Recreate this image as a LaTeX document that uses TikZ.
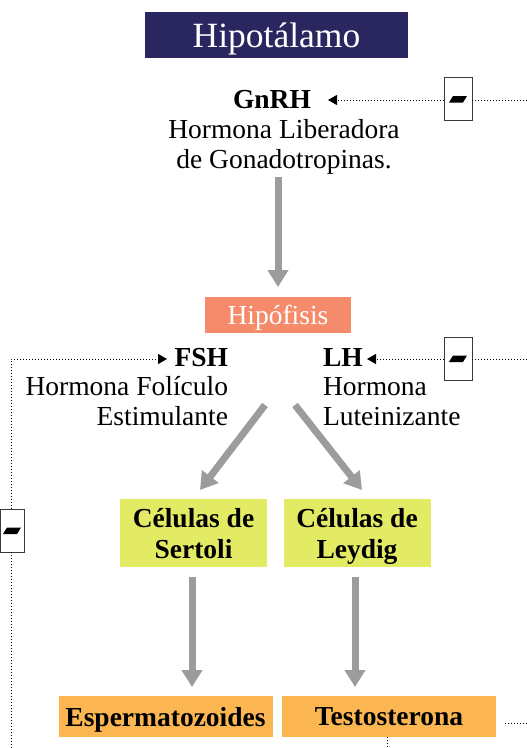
\documentclass[tikz,border=0pt]{standalone}
\usepackage{fontspec}
\setmainfont{Liberation Serif}
\usetikzlibrary{arrows.meta}
\definecolor{navy}{HTML}{2A2660}
\definecolor{salmon}{HTML}{F58B6A}
\definecolor{yelbox}{HTML}{E3EA64}
\definecolor{orabox}{HTML}{FBB652}
\definecolor{arrgray}{HTML}{9C9C9C}
\definecolor{boxline}{HTML}{3A3A3A}
\newcommand\txtsize{\fontsize{27.5}{30}\selectfont}
\newcommand\bigsize{\fontsize{35.5}{38}\selectfont}
\begin{document}
\begin{tikzpicture}[x=1pt,y=-1pt,
  every node/.style={inner sep=0pt, outer sep=0pt, font=\txtsize},
  txt/.style={anchor=base},
  hbold/.style={anchor=base, font=\txtsize\bfseries},
  headbox/.style={fill=#1, text=white, text depth=0pt},
  cellbox/.style={fill=yelbox, minimum width=147pt, minimum height=68pt, align=center, font=\txtsize\bfseries, text depth=0pt},
  prodbox/.style={fill=orabox, minimum width=214pt, minimum height=41pt, font=\txtsize\bfseries, text depth=0pt},
  minusbox/.style={draw=boxline, line width=1pt, fill=white, minimum width=28pt, minimum height=43pt},
  grayarrow/.style={draw=arrgray, line width=7pt, -{Triangle[length=17pt,width=20pt]}},
  dotline/.style={line width=1pt, dash pattern=on 1pt off 2pt},
  dotarrow/.style={dotline, -{Triangle[length=9pt,width=10pt]}}
]
\useasboundingbox (0,0) rectangle (527,748);

% boxes
\node[headbox=navy, minimum width=263pt, minimum height=46pt, font=\bigsize] (hipot) at (276.5,35) {Hipotálamo};
\node[headbox=salmon, minimum width=146pt, minimum height=36pt] (hipof) at (278,315) {Hipófisis};

% GnRH
\node[hbold] (gnrh) at (272,108) {GnRH};
\node[txt] (gnrhA) at (284,138) {Hormona Liberadora};
\node[txt] (gnrhB) at (284,168) {de Gonadotropinas.};

% FSH
\node[hbold, anchor=base east] (fsh) at (228,366) {FSH};
\node[txt, anchor=base east] (fshA) at (228,395) {Hormona Folículo};
\node[txt, anchor=base east] (fshB) at (228,425) {Estimulante};

% LH
\node[hbold, anchor=base west] (lh) at (323,366) {LH};
\node[txt, anchor=base west] (lhA) at (323,395) {Hormona};
\node[txt, anchor=base west] (lhB) at (323,425) {Luteinizante};

% cells
\node[cellbox] (sertoli) at (193.5,533) {Células de\\[1pt]Sertoli};
\node[cellbox] (leydig) at (357,533) {Células de\\[1pt]Leydig};
\node[prodbox] (esperm) at (165.5,716.5) {Espermatozoides};
\node[prodbox] (testo) at (389,716.5) {Testosterona};

% minus boxes
\node[minusbox] (m1) at (458,99) {};
\node[minusbox] (m2) at (458,358.5) {};
\node[minusbox, minimum width=24pt] (m3) at (12,530.5) {};
\foreach \m in {m1,m2,m3}{
  \fill[shift={(\m.center)}] (-9,3.5) -- (-5,-3) -- (9,-3) -- (5,3.5) -- cycle;
}

% gray arrows
\coordinate (a1s) at (278,177);
\coordinate (a1e) at (278,287);
\draw[grayarrow] (a1s) -- (a1e);
\coordinate (a2s) at (265,405);
\coordinate (a2e) at (200,490);
\draw[grayarrow] (a2s) -- (a2e);
\coordinate (a3s) at (295,405);
\coordinate (a3e) at (362,490);
\draw[grayarrow] (a3s) -- (a3e);
\coordinate (a4s) at (192,577);
\coordinate (a4e) at (192,687);
\draw[grayarrow] (a4s) -- (a4e);
\coordinate (a5s) at (355,577);
\coordinate (a5e) at (355,687);
\draw[grayarrow] (a5s) -- (a5e);

% dotted feedback lines
\coordinate (r1) at (527,100);
\coordinate (t1) at (328,100);
\draw[dotline] (r1) -- (m1.east |- r1);
\draw[dotarrow] (m1.west |- r1) -- (t1);
\coordinate (r2) at (527,359);
\coordinate (t2) at (367,359);
\draw[dotline] (r2) -- (m2.east |- r2);
\draw[dotarrow] (m2.west |- r2) -- (t2);
\coordinate (b3) at (11,748);
\coordinate (c3) at (11,359);
\coordinate (t3) at (167,359);
\draw[dotline] (b3) -- (m3.south -| b3);
\draw[dotarrow] (m3.north -| b3) -- (c3) -- (t3);
\coordinate (r4s) at (505,723);
\coordinate (r4e) at (527,723);
\draw[dotline] (r4s) -- (r4e);
\coordinate (v4e) at (387,748);
\draw[dotline] (testo.south -| v4e) -- (v4e);
\end{tikzpicture}
\end{document}
